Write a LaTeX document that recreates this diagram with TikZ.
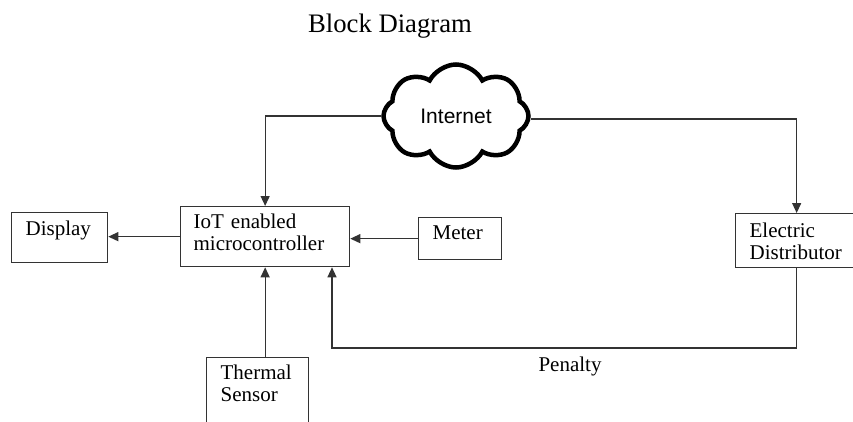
\documentclass[tikz,border=0pt]{standalone}
\usepackage{fontspec}
\setmainfont{Liberation Serif}
\newfontfamily\netfont{Liberation Sans}
\usetikzlibrary{shapes.symbols,arrows.meta}

\begin{document}
\begin{tikzpicture}[x=1pt,y=-1pt]
\fontsize{21}{22}\selectfont

\tikzstyle{block} = [draw=black!80, line width=1.3pt, anchor=north west, align=left, inner ysep=0pt]
\tikzstyle{wire}  = [draw=black!80, line width=1.3pt]
\tikzstyle{arr}   = [wire, -{Triangle[length=10pt,width=9pt]}]

\useasboundingbox (0,0) rectangle (853,421);
\clip (0,0) rectangle (853,421);

\node [anchor=base, font=\fontsize{26.7}{30}\selectfont] (title) at (390,32) {Block Diagram};

\node [cloud, draw=black, line width=4.5pt, cloud puffs=8, cloud puff arc=125, aspect=1.4,
  minimum width=145pt, minimum height=103pt, inner sep=0pt,
  font=\netfont\fontsize{21}{24}\selectfont] (net) at (456,116) {Internet};

\node [block, inner xsep=14pt, text width=68pt, text height=23pt, text depth=27pt] (disp) at (11,212) {Display};
\node [block, inner xsep=13pt, text width=143pt, text height=22pt, text depth=38pt] (iot) at (180,206) {IoT enabled\\microcontroller};
\node [block, inner xsep=14pt, text width=55pt, text height=22pt, text depth=20pt] (meter) at (418,217) {Meter};
\node [block, inner xsep=14pt, text width=94pt, text height=24pt, text depth=30pt] (dist) at (735,213) {Electric\\Distributor};
\node [block, inner xsep=14pt, text width=74pt, text height=22pt, text depth=70pt] (therm) at (206,357) {Thermal\\Sensor};

\node [anchor=base] (pen) at (570,371) {Penalty};

\draw [arr] (net.west) -| (iot.north);
\draw [arr] ([yshift=-3pt]net.east) -| (dist.north);
\draw [arr] (iot.west) -- (iot.west -| disp.east);
\draw [arr] (meter.west) -- (meter.west -| iot.east);
\draw [arr] (iot.south |- therm.north) -- (iot.south);

\coordinate (turn) at (332,348);
\draw [arr] (dist.south) |- (turn) -- (turn |- iot.south);
\end{tikzpicture}
\end{document}
